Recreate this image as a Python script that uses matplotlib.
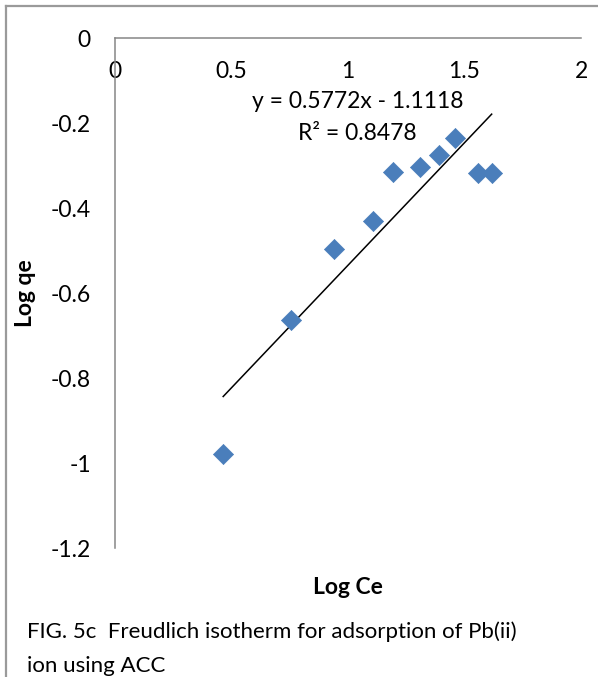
import matplotlib
matplotlib.use("Agg")
import matplotlib.pyplot as plt
from matplotlib.lines import Line2D
import numpy as np

# Data
log_ce = [0.466, 0.755, 0.940, 1.107, 1.193, 1.308, 1.393, 1.459, 1.557, 1.617]
log_qe = [-0.979, -0.664, -0.496, -0.431, -0.315, -0.304, -0.275, -0.235, -0.318, -0.318]
slope = 0.5772
intercept = -1.1118
r2 = 0.8478
x_ticks = [0, 0.5, 1, 1.5, 2]
x_tick_labels = ["0", "0.5", "1", "1.5", "2"]
y_ticks = [0, -0.2, -0.4, -0.6, -0.8, -1, -1.2]
y_tick_labels = ["0", "-0.2", "-0.4", "-0.6", "-0.8", "-1", "-1.2"]

plt.rcParams['font.family'] = ['Lato', 'DejaVu Sans']

W, H = 598, 677
fig = plt.figure(figsize=(W / 100, H / 100), dpi=100)

ax = fig.add_axes([114.5 / W, 1 - 548.3 / H, (581 - 114.5) / W, (548.3 - 38.3) / H])
ax.set_xlim(0, 2)
ax.set_ylim(-1.2, 0)

spine_color = "#868686"
for s in ["right", "top"]:
    ax.spines[s].set_visible(False)
ax.spines["bottom"].set_position(("data", 0))
ax.spines["bottom"].set_color(spine_color)
ax.spines["left"].set_color(spine_color)
ax.spines["bottom"].set_linewidth(1.1)
ax.spines["left"].set_linewidth(1.1)

fs = 16.5
ax.set_xticks(x_ticks)
ax.set_xticklabels(x_tick_labels)
ax.set_yticks(y_ticks)
ax.set_yticklabels(y_tick_labels)
ax.tick_params(axis="x", length=0, pad=16, labelsize=fs, colors="black")
ax.tick_params(axis="y", length=0, pad=17, labelsize=fs, colors="black")

# trendline
xs = np.array([min(log_ce), max(log_ce)])
ax.plot(xs, slope * xs + intercept, color="black", lw=1.1, zorder=2)

ax.scatter(log_ce, log_qe, marker="D", s=105, color="#4A7EBB", edgecolors="#4A7EBB",
           linewidths=0.5, zorder=3, clip_on=False)

sign = "-" if intercept < 0 else "+"
ax.text(1.042, -0.149, f"y = {slope:.4f}x {sign} {abs(intercept):.4f}", ha="center", va="center",
        fontsize=fs)
ax.text(1.042, -0.223, f"R² = {r2:.4f}", ha="center", va="center", fontsize=fs)

# axis titles
fig.text(348 / W, 1 - 588 / H, "Log Ce", ha="center", va="center", fontsize=fs, fontweight="bold")
fig.text(26 / W, 1 - 293 / H, "Log qe", ha="center", va="center", fontsize=fs, fontweight="bold",
         rotation=90)

# caption
fig.text(27 / W, 1 - 632 / H, "FIG. 5c  Freudlich isotherm for adsorption of Pb(ii)", ha="left",
         va="center", fontsize=16)
fig.text(27 / W, 1 - 666 / H, "ion using ACC", ha="left", va="center", fontsize=16)

# outer border (left and top)
border_color = "#9A9A9A"
fig.add_artist(Line2D([6 / W, 6 / W], [0, 1 - 6 / H], color=border_color, lw=1.6,
                      transform=fig.transFigure))
fig.add_artist(Line2D([6 / W, 1], [1 - 6 / H, 1 - 6 / H], color=border_color, lw=1.6,
                      transform=fig.transFigure))

fig.savefig("out.png", dpi=100)
